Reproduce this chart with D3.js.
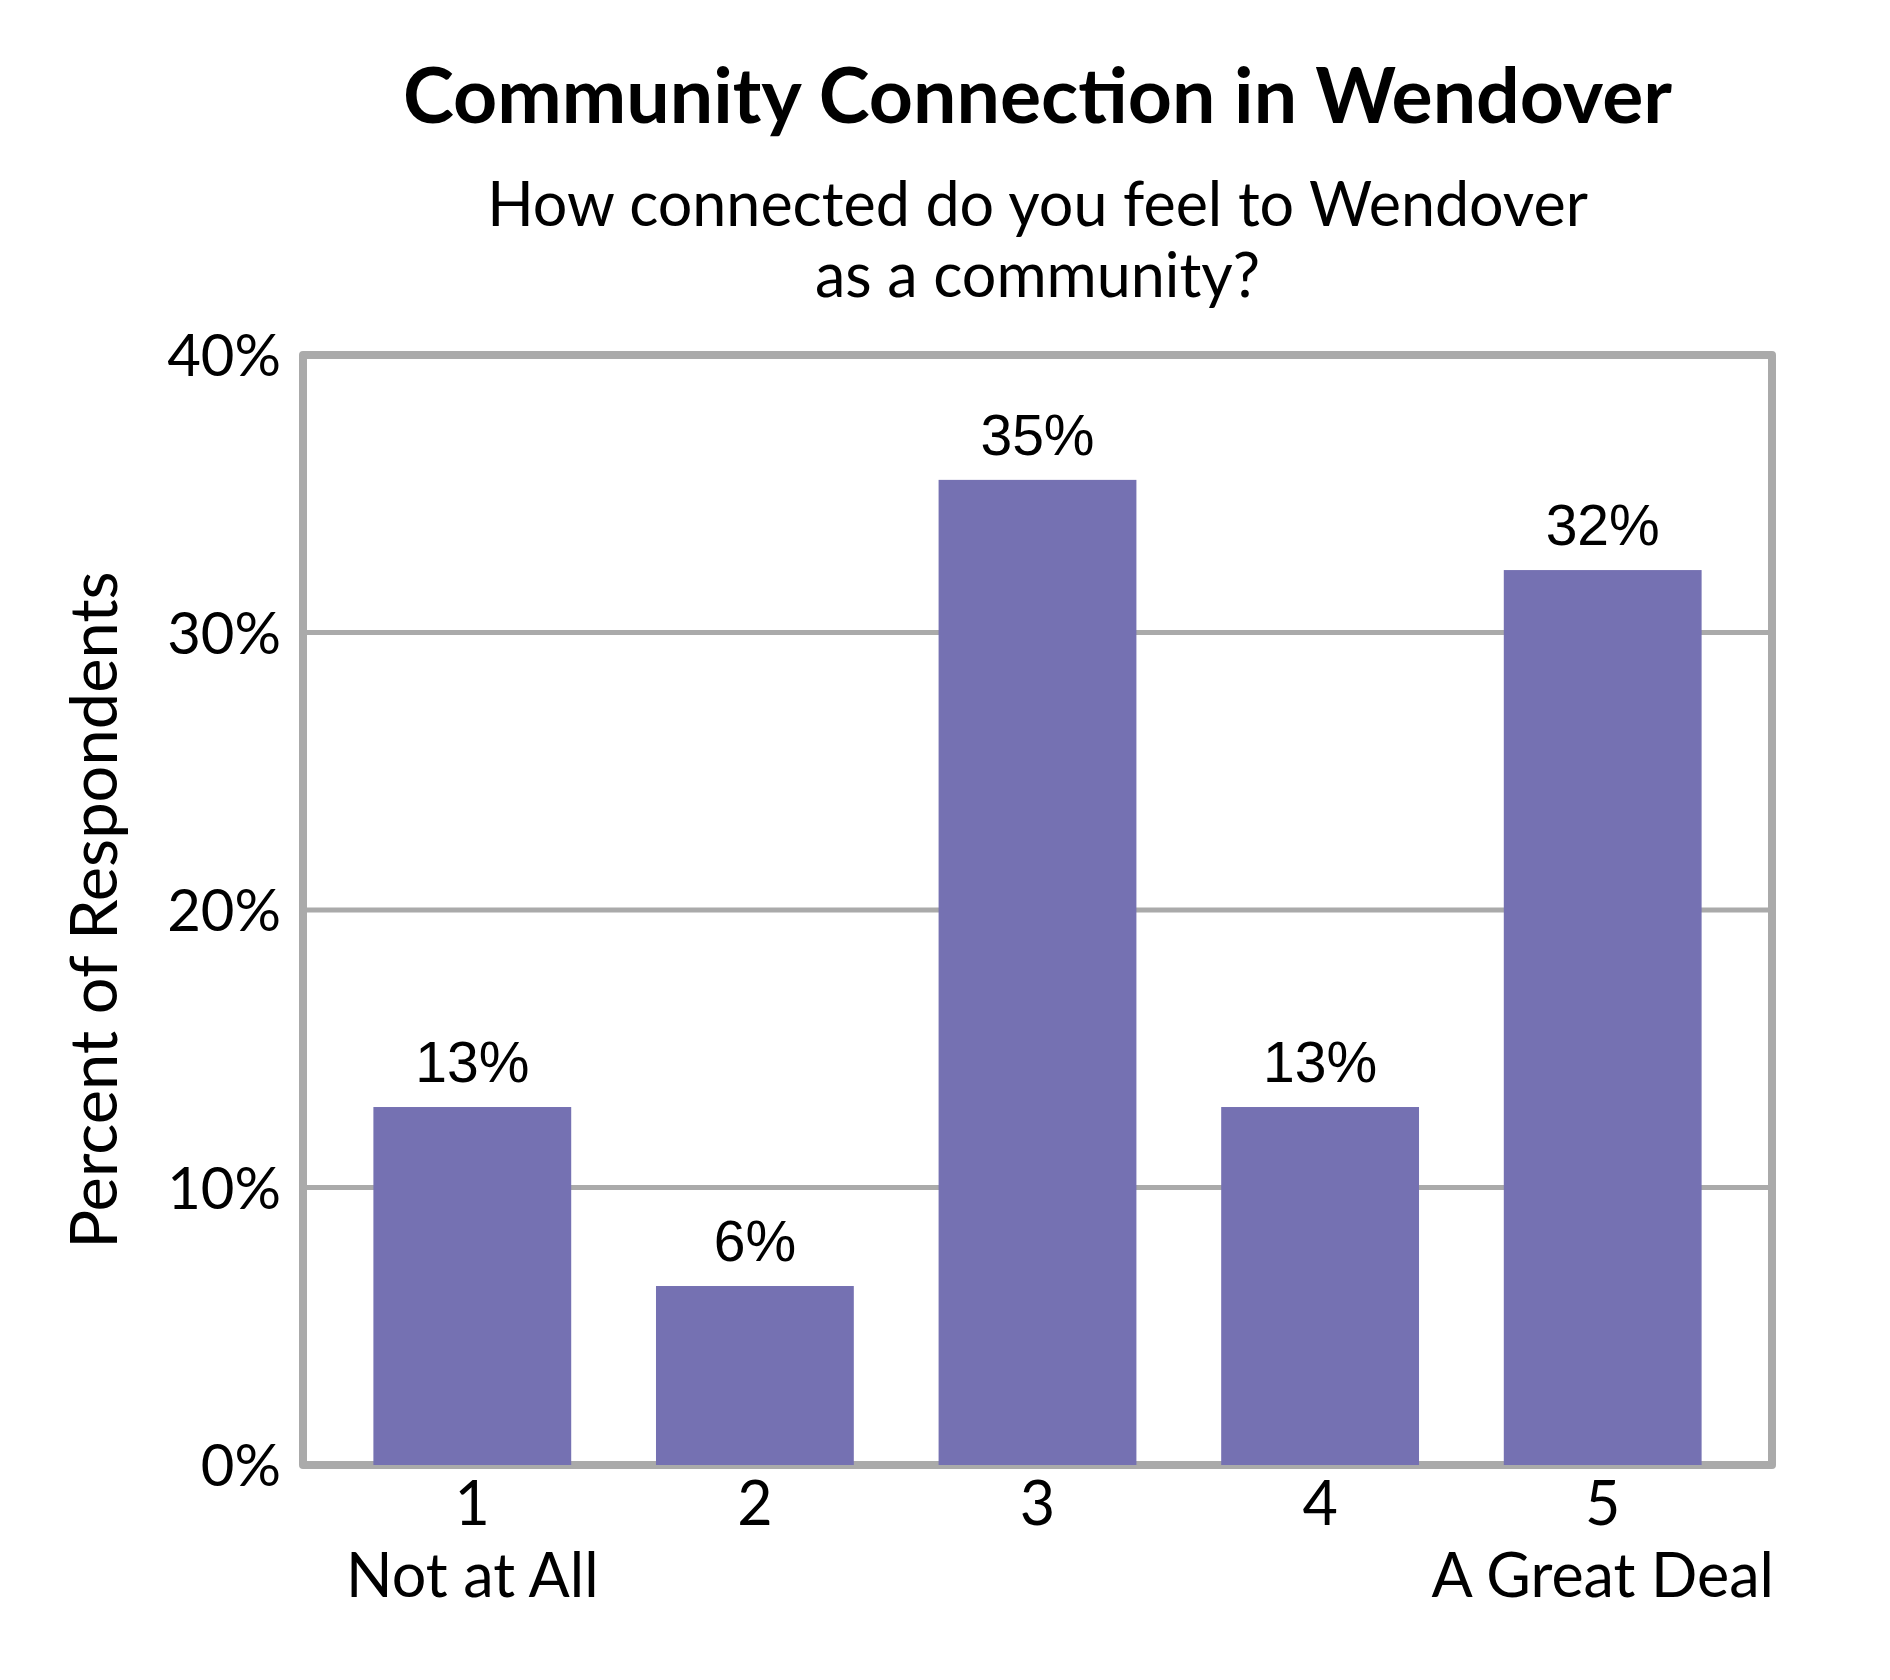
<!DOCTYPE html>
<html>
<head>
<meta charset="utf-8">
<script src="https://cdn.jsdelivr.net/npm/d3@7"></script>
<style>
  body { margin: 0; background: #fff; }
</style>
</head>
<body>
<script>
// survey answers on a 1-5 scale
const categories = ['1', '2', '3', '4', '5'];
const scaleEnds = ['Not at All', '', '', '', 'A Great Deal'];
const values = [12.9, 6.45, 35.5, 12.9, 32.25];
const valueLabels = ['13%', '6%', '35%', '13%', '32%'];
const yTicks = [0, 10, 20, 30, 40];

const width = 1890, height = 1680;
const frame = { left: 303, right: 1772, top: 355, bottom: 1465 };
const midX = (frame.left + frame.right) / 2;
const barColor = '#7571b2';
const gridColor = '#aaaaaa';
const labelFont = 'Lato, Carlito, Calibri, sans-serif';

const svg = d3.select('body').append('svg')
  .attr('width', width)
  .attr('height', height);

// bars sit a little inside the frame, like the excel plot area
const x = d3.scaleBand()
  .domain(categories)
  .range([331, 1744])
  .paddingInner(0.3)
  .paddingOuter(0.15);

const y = d3.scaleLinear()
  .domain([0, 40])
  .range([frame.bottom, frame.top]);

// title + question
svg.append('text')
  .attr('x', midX).attr('y', 123)
  .attr('text-anchor', 'middle')
  .attr('font-family', labelFont)
  .attr('font-weight', 'bold')
  .attr('font-size', 77)
  .text('Community Connection in Wendover');

svg.append('text')
  .attr('text-anchor', 'middle')
  .attr('font-family', labelFont)
  .attr('font-size', 61)
  .selectAll('tspan')
  .data(['How connected do you feel to Wendover', 'as a community?'])
  .join('tspan')
  .attr('x', midX)
  .attr('y', (d, i) => 226 + i * 71)
  .text(d => d);

// gridlines
svg.append('g')
  .selectAll('line')
  .data(yTicks.slice(1, -1))
  .join('line')
  .attr('x1', frame.left).attr('x2', frame.right)
  .attr('y1', d => y(d)).attr('y2', d => y(d))
  .attr('stroke', gridColor)
  .attr('stroke-width', 5);

// frame
svg.append('rect')
  .attr('x', frame.left).attr('y', frame.top)
  .attr('width', frame.right - frame.left)
  .attr('height', frame.bottom - frame.top)
  .attr('fill', 'none')
  .attr('stroke', gridColor)
  .attr('stroke-width', 8)
  .attr('stroke-linejoin', 'round');

// y axis labels, no ticks
const yAxis = g => g
  .attr('transform', `translate(${frame.left - 4},0)`)
  .call(d3.axisLeft(y).tickValues(yTicks).tickSize(0).tickPadding(18).tickFormat(d => d + '%'))
  .call(g => g.select('.domain').remove())
  .call(g => g.selectAll('text')
    .attr('font-family', labelFont)
    .attr('font-size', 58)
    .attr('fill', '#000')
    .attr('dy', '0.36em'));
svg.append('g').call(yAxis);

svg.append('text')
  .attr('transform', `translate(117,${(frame.top + frame.bottom) / 2}) rotate(-90)`)
  .attr('text-anchor', 'middle')
  .attr('font-family', labelFont)
  .attr('font-size', 65)
  .text('Percent of Respondents');

// bars
svg.append('g')
  .selectAll('rect')
  .data(values)
  .join('rect')
  .attr('x', (d, i) => x(categories[i]))
  .attr('y', d => y(d))
  .attr('width', x.bandwidth())
  .attr('height', d => y(0) - y(d))
  .attr('fill', barColor);

// value labels above bars
svg.append('g')
  .selectAll('text')
  .data(values)
  .join('text')
  .attr('x', (d, i) => x(categories[i]) + x.bandwidth() / 2)
  .attr('y', d => y(d) - 25)
  .attr('text-anchor', 'middle')
  .attr('font-family', 'Arial, "Liberation Sans", sans-serif')
  .attr('font-size', 57)
  .text((d, i) => valueLabels[i]);

// x axis: number plus end descriptions
const xAxis = g => g
  .attr('transform', `translate(0,${frame.bottom})`)
  .call(d3.axisBottom(x).tickSize(0).tickPadding(0))
  .call(g => g.select('.domain').remove())
  .call(g => g.selectAll('.tick text').remove())
  .call(g => g.selectAll('.tick').append('text')
    .attr('font-family', labelFont)
    .attr('font-size', 61)
    .attr('fill', '#000')
    .attr('text-anchor', 'middle')
    .selectAll('tspan')
    .data((d, i) => [d, scaleEnds[i]])
    .join('tspan')
    .attr('x', 0)
    .attr('y', (d, i) => 60 + i * 72)
    .text(d => d));
svg.append('g').call(xAxis);
</script>
</body>
</html>
